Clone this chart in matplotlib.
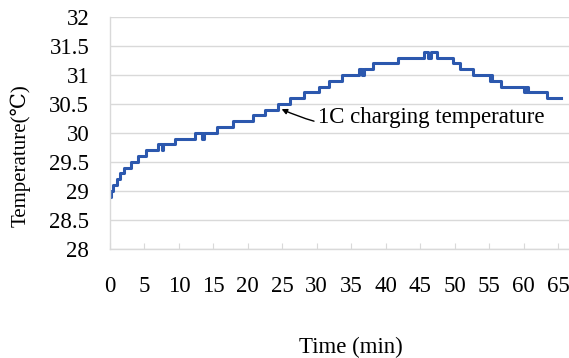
import matplotlib
matplotlib.use("Agg")
import matplotlib.pyplot as plt

# step changes of the logged temperature (time in min, value held until next time)
time_min = [0.0, 0.2, 0.5, 1.0, 1.45, 2.1, 3.05, 4.0, 5.2, 7.0, 7.5, 7.7,
            9.5, 12.3, 13.4, 13.6, 15.5, 17.8, 20.7, 22.5, 24.4, 26.1,
            28.2, 30.3, 31.8, 33.6, 36.2, 36.6, 36.8, 38.2, 41.8, 45.5,
            46.2, 46.6, 47.4, 49.7, 50.8, 52.7, 55.1, 55.3, 55.4, 56.8,
            60.0, 60.4, 60.6, 63.4, 65.4]
temp_c = [28.9, 29.0, 29.1, 29.2, 29.3, 29.4, 29.5, 29.6, 29.7, 29.8, 29.7, 29.8,
          29.9, 30.0, 29.9, 30.0, 30.1, 30.2, 30.3, 30.4, 30.5, 30.6,
          30.7, 30.8, 30.9, 31.0, 31.1, 31.0, 31.1, 31.2, 31.3, 31.4,
          31.3, 31.4, 31.3, 31.2, 31.1, 31.0, 30.9, 31.0, 30.9, 30.8,
          30.7, 30.8, 30.7, 30.6, 30.6]

x_ticks = list(range(0, 70, 5))
y_ticks = [28, 28.5, 29, 29.5, 30, 30.5, 31, 31.5, 32]

serif = ['Liberation Serif', 'DejaVu Serif', 'DejaVu Sans']
plt.rcParams['font.family'] = serif
fs = 16.5

fig = plt.figure(figsize=(5.69, 3.58), dpi=100)
ax = fig.add_axes([0.1933, 0.3053, 0.8067, 0.6472])

ax.step(time_min, temp_c, where='post', color='#2C58AE', linewidth=2.2)

ax.set_xlim(0, 66.6)
ax.set_ylim(28, 32)
ax.set_xticks(x_ticks)
ax.set_yticks(y_ticks)
ax.set_yticklabels([f"{v:g}" for v in y_ticks])
ax.grid(axis='y', color='#D9D9D9', linewidth=1.0)
ax.set_axisbelow(True)

for s in ['top', 'right']:
    ax.spines[s].set_visible(False)
for s in ['left', 'bottom']:
    ax.spines[s].set_color('#D9D9D9')
    ax.spines[s].set_linewidth(1.0)

ax.tick_params(axis='x', direction='in', length=4, color='#D9D9D9',
               labelsize=fs, pad=20)
ax.tick_params(axis='y', length=0, labelsize=fs, pad=15)

ax.set_xlabel('Time (min)', fontsize=fs)
ax.xaxis.set_label_coords(0.525, -0.38)
ax.set_ylabel('Temperature(℃)', fontsize=15)
ax.yaxis.set_label_coords(-0.172, 0.4)

ax.annotate('1C charging temperature', xy=(24.9, 30.41), xytext=(30.2, 30.27),
            fontsize=fs, va='center', ha='left',
            arrowprops=dict(arrowstyle='-|>', color='black', lw=1.0,
                            mutation_scale=8,
                            connectionstyle='arc3,rad=-0.2',
                            shrinkA=1, shrinkB=0))

fig.savefig('out.png', dpi=100)
